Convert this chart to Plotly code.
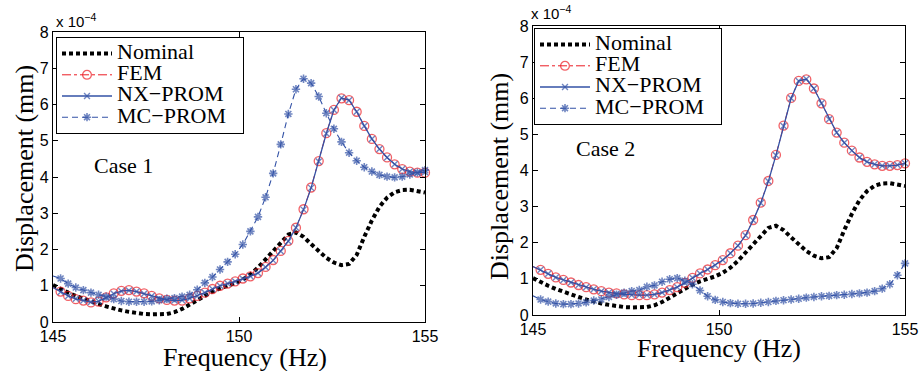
import numpy as np
import plotly.graph_objects as go

# Frequency grid (50 samples from 145 to 155 Hz)
freq = np.linspace(145, 155, 50)

# Displacement values (x 1e-4 mm)
nominal = [1.02, 0.90, 0.81, 0.72, 0.64, 0.58, 0.50, 0.43, 0.37, 0.32,
           0.28, 0.24, 0.22, 0.21, 0.21, 0.22, 0.27, 0.36, 0.48, 0.60,
           0.73, 0.84, 0.93, 1.00, 1.07, 1.17, 1.31, 1.50, 1.73, 1.98,
           2.22, 2.41, 2.47, 2.35, 2.15, 1.95, 1.77, 1.64, 1.57, 1.60,
           1.85, 2.35, 2.80, 3.18, 3.43, 3.58, 3.64, 3.65, 3.61, 3.57]

case1_fem = [0.95, 0.84, 0.72, 0.63, 0.59, 0.54, 0.56, 0.68, 0.79, 0.86,
             0.88, 0.84, 0.79, 0.72, 0.65, 0.61, 0.59, 0.59, 0.65, 0.72,
             0.81, 0.91, 1.00, 1.06, 1.12, 1.20, 1.26, 1.35, 1.52, 1.71,
             1.96, 2.24, 2.60, 3.11, 3.71, 4.44, 5.21, 5.85, 6.17, 6.12,
             5.80, 5.41, 5.05, 4.77, 4.54, 4.35, 4.22, 4.15, 4.12, 4.12]
case1_nx = [0.95, 0.83, 0.72, 0.64, 0.59, 0.55, 0.57, 0.67, 0.78, 0.85,
            0.87, 0.84, 0.78, 0.72, 0.65, 0.61, 0.59, 0.60, 0.65, 0.72,
            0.81, 0.91, 1.00, 1.06, 1.12, 1.19, 1.26, 1.35, 1.51, 1.70,
            1.95, 2.23, 2.60, 3.10, 3.70, 4.43, 5.20, 5.85, 6.18, 6.12,
            5.80, 5.41, 5.05, 4.77, 4.54, 4.35, 4.22, 4.15, 4.12, 4.13]
case1_mc = [1.27, 1.20, 1.06, 0.95, 0.88, 0.81, 0.75, 0.70, 0.63, 0.58,
            0.56, 0.56, 0.56, 0.57, 0.60, 0.64, 0.66, 0.70, 0.75, 0.89,
            1.08, 1.24, 1.45, 1.66, 1.87, 2.14, 2.50, 2.90, 3.44, 4.10,
            4.90, 5.74, 6.42, 6.71, 6.59, 6.22, 5.76, 5.33, 4.97, 4.67,
            4.45, 4.27, 4.15, 4.06, 4.01, 3.99, 4.01, 4.07, 4.12, 4.19]

case2_fem = [1.34, 1.25, 1.14, 1.04, 0.97, 0.90, 0.83, 0.77, 0.71, 0.66,
             0.62, 0.60, 0.57, 0.55, 0.55, 0.55, 0.57, 0.62, 0.69, 0.77,
             0.89, 1.03, 1.15, 1.26, 1.38, 1.52, 1.71, 1.92, 2.21, 2.63,
             3.11, 3.71, 4.43, 5.24, 6.01, 6.48, 6.52, 6.27, 5.86, 5.42,
             5.05, 4.77, 4.55, 4.36, 4.24, 4.17, 4.13, 4.13, 4.15, 4.20]
case2_nx = [1.34, 1.25, 1.14, 1.04, 0.97, 0.90, 0.83, 0.77, 0.71, 0.66,
            0.62, 0.59, 0.57, 0.55, 0.55, 0.55, 0.57, 0.62, 0.69, 0.77,
            0.89, 1.03, 1.15, 1.26, 1.38, 1.52, 1.71, 1.92, 2.20, 2.62,
            3.10, 3.70, 4.42, 5.23, 6.00, 6.48, 6.53, 6.27, 5.86, 5.42,
            5.05, 4.77, 4.55, 4.36, 4.24, 4.17, 4.13, 4.13, 4.15, 4.20]
case2_mc = [0.53, 0.43, 0.37, 0.32, 0.30, 0.30, 0.32, 0.35, 0.40, 0.43,
            0.50, 0.56, 0.62, 0.66, 0.69, 0.78, 0.82, 0.92, 0.99, 1.02,
            0.95, 0.85, 0.68, 0.52, 0.42, 0.36, 0.33, 0.31, 0.31, 0.32,
            0.34, 0.36, 0.39, 0.41, 0.43, 0.45, 0.48, 0.50, 0.52, 0.53,
            0.55, 0.56, 0.58, 0.60, 0.62, 0.66, 0.73, 0.85, 1.10, 1.43]

series_names = ["Nominal", "FEM", "NX\u2212PROM", "MC\u2212PROM"]
case_labels = ["Case 1", "Case 2"]
x_ticks = [145, 150, 155]
y_ticks = [0, 1, 2, 3, 4, 5, 6, 7, 8]

RED = "#ec1c24"
BLUE = "#3352a6"
SERIF = "Liberation Serif, Times New Roman, serif"
SANS = "Liberation Sans, Arial, sans-serif"

def msize(n, s):
    sizes = [s] * n
    sizes[0] = 0
    return sizes

def leg_name(t):
    return "<span style='font-size:22px'>" + t + "\u2002</span>"

fig = go.Figure()

panels = [
    (case1_fem, case1_nx, case1_mc, "x", "y", "legend"),
    (case2_fem, case2_nx, case2_mc, "x2", "y2", "legend2"),
]
n = len(freq)
for fem, nx, mc, xa, ya, lg in panels:
    fig.add_trace(go.Scatter(x=freq, y=nominal, mode="lines", name=leg_name(series_names[0]),
                             line=dict(color="black", width=4, dash="4px,3px"),
                             xaxis=xa, yaxis=ya, legend=lg))
    fig.add_trace(go.Scatter(x=freq, y=fem, mode="lines+markers", name=leg_name(series_names[1]),
                             line=dict(color=RED, width=1, dash="dashdot"),
                             marker=dict(symbol="circle-open", size=msize(n, 9), color=RED,
                                         line=dict(width=1.3, color=RED)),
                             cliponaxis=False, xaxis=xa, yaxis=ya, legend=lg))
    fig.add_trace(go.Scatter(x=freq, y=nx, mode="lines+markers", name=leg_name(series_names[2]),
                             line=dict(color=BLUE, width=1.3),
                             marker=dict(symbol="x-thin-open", size=msize(n, 6), color=BLUE,
                                         line=dict(width=1.4, color=BLUE)),
                             cliponaxis=False, xaxis=xa, yaxis=ya, legend=lg))
    fig.add_trace(go.Scatter(x=freq, y=mc, mode="lines+markers", name=leg_name(series_names[3]),
                             line=dict(color=BLUE, width=1.1, dash="6px,4px"),
                             marker=dict(symbol="asterisk-open", size=msize(n, 7), color=BLUE,
                                         line=dict(width=1.6, color=BLUE)),
                             cliponaxis=False, xaxis=xa, yaxis=ya, legend=lg))

axis_common = dict(showline=True, linecolor="black", linewidth=1.2, mirror="ticks",
                   ticks="inside", ticklen=5, tickcolor="black", tickwidth=1,
                   showgrid=False, zeroline=False, automargin=False,
                   tickfont=dict(family=SANS, size=16, color="black"))

W, H = 922, 371
def px(v):
    return v / W
def py(v):
    return 1 - v / H

fig.update_layout(
    width=W, height=H, margin=dict(l=0, r=0, t=0, b=0, autoexpand=False),
    paper_bgcolor="white", plot_bgcolor="white",
    xaxis=dict(domain=[px(53), px(425)], range=[145, 155], tickvals=x_ticks, anchor="y", **axis_common),
    yaxis=dict(domain=[py(322), py(32)], range=[0, 8], tickvals=y_ticks, anchor="x", **axis_common),
    xaxis2=dict(domain=[px(533), px(905)], range=[145, 155], tickvals=x_ticks, anchor="y2", **axis_common),
    yaxis2=dict(domain=[py(315), py(26)], range=[0, 8], tickvals=y_ticks, anchor="x2", **axis_common),
    legend=dict(x=px(56), y=py(37), xanchor="left", yanchor="top", bgcolor="white",
                bordercolor="black", borderwidth=1, font=dict(family=SERIF, size=14, color="black"),
                itemwidth=50, tracegroupgap=0),
    legend2=dict(x=px(534), y=py(28), xanchor="left", yanchor="top", bgcolor="white",
                 bordercolor="black", borderwidth=1, font=dict(family=SERIF, size=14, color="black"),
                 itemwidth=50, tracegroupgap=0),
)

ann = []
# axis titles
for (xc, yc) in [(245, 357), (719, 348)]:
    ann.append(dict(text="Frequency (Hz)", x=px(xc), y=py(yc), xref="paper", yref="paper",
                    showarrow=False, xanchor="center", yanchor="middle",
                    font=dict(family=SERIF, size=26, color="black")))
for (xc, yc) in [(24, 169), (499, 177)]:
    ann.append(dict(text="Displacement (mm)", x=px(xc), y=py(yc), xref="paper", yref="paper",
                    showarrow=False, xanchor="center", yanchor="middle", textangle=-90,
                    font=dict(family=SERIF, size=26, color="black")))
# exponent labels
for (xl, yc) in [(54, 20), (529, 12)]:
    ann.append(dict(text="x 10<sup>\u22124</sup>", x=px(xl), y=py(yc), xref="paper", yref="paper",
                    showarrow=False, xanchor="left", yanchor="middle",
                    font=dict(family=SANS, size=15, color="black")))
# case labels
ann.append(dict(text=case_labels[0], x=146.9, y=4.33, xref="x", yref="y", showarrow=False,
                font=dict(family=SERIF, size=22, color="black")))
ann.append(dict(text=case_labels[1], x=146.94, y=4.6, xref="x2", yref="y2", showarrow=False,
                font=dict(family=SERIF, size=22, color="black")))
fig.update_layout(annotations=ann)

fig.write_html("out.html")
